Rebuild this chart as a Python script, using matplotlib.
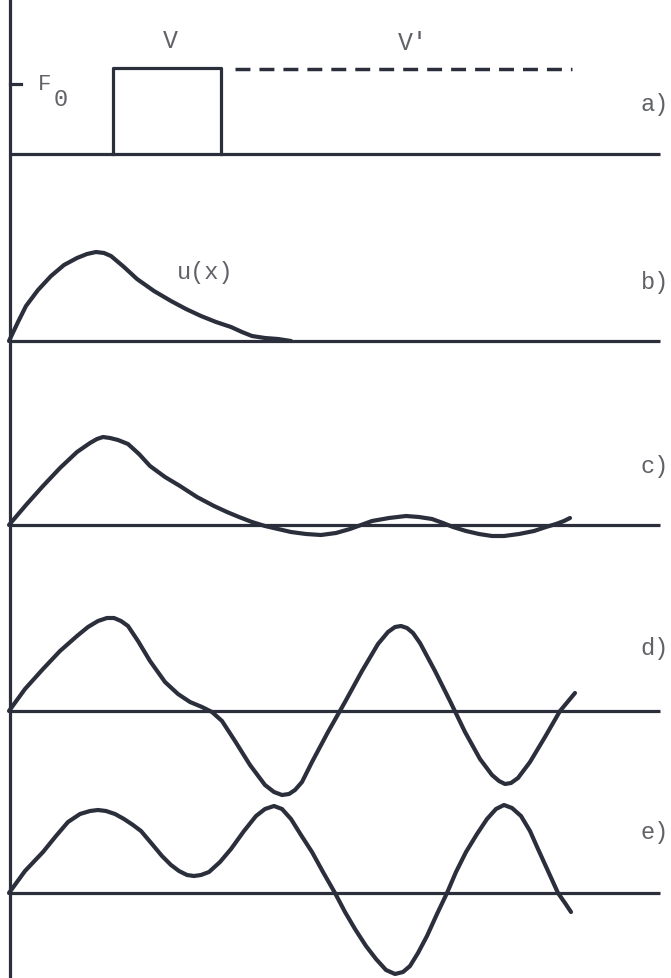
import matplotlib.pyplot as plt

# panel baselines (image rows) and labels
baselines = [155, 342, 526, 712, 894]
panel_labels = ["a)", "b)", "c)", "d)", "e)"]
label_rows = [104, 283, 467, 649, 833]

# a) barrier V and continued level V'
barrier_x = [113, 113, 221, 221]
barrier_h = [0, 86, 86, 0]
level_x = [235, 572]
level_h = [85, 85]
f0_h = 70

# b) bound state u(x)
b_x = [9, 18, 26, 38, 51, 64, 77, 87, 96, 104, 111, 124, 137, 154, 171,
       186, 201, 216, 231, 242, 252, 265, 278, 291]
b_h = [0, 19, 35, 51, 65, 76, 83, 87, 89, 88, 85, 74, 62, 50, 40,
       32, 25, 19, 14, 9, 5, 3, 2, 0]

# c) small oscillating tail
c_x = [9, 26, 43, 60, 77, 90, 97, 103, 110, 118, 128, 139, 150, 165, 180,
       197, 214, 227, 239, 252, 265, 278, 291, 306, 321, 336, 350, 361, 372,
       389, 406, 419, 432, 443, 453, 466, 479, 492, 504, 519, 534, 546, 556,
       564, 570]
c_h = [0, 20, 39, 57, 73, 82, 86, 88, 87, 85, 81, 71, 59, 48, 39,
       28, 19, 13, 8, 3, -1, -4, -7, -9, -10, -8, -4, 0, 4,
       7, 9, 8, 6, 2, -2, -6, -9, -11, -11, -9, -6, -2, 1,
       4, 7]

# d) large oscillation
d_x = [9, 25, 43, 60, 77, 88, 98, 107, 114, 121, 128, 138, 150, 165, 178,
       190, 202, 212, 222, 235, 250, 265, 274, 282, 289, 295, 302, 312, 328,
       345, 362, 378, 388, 395, 401, 407, 413, 420, 435, 450, 465, 480, 492,
       499, 505, 511, 518, 530, 545, 560, 570, 575]
d_h = [0, 22, 42, 60, 75, 84, 90, 93, 93, 90, 85, 70, 50, 29, 17,
       9, 4, -1, -10, -30, -54, -74, -81, -84, -83, -79, -71, -51, -21,
       9, 40, 67, 79, 84, 85, 83, 78, 68, 40, 10, -21, -48, -64,
       -70, -73, -72, -67, -51, -26, 0, 12, 18]

# e) resonance
e_x = [9, 25, 43, 56, 68, 80, 90, 98, 106, 115, 124, 133, 141, 152, 162,
       171, 179, 187, 194, 201, 209, 220, 231, 244, 256, 265, 274, 282, 291,
       301, 312, 323, 335, 345, 355, 366, 376, 386, 395, 403, 410, 418, 427,
       437, 447, 456, 466, 477, 487, 496, 504, 512, 521, 530, 538, 548, 558,
       565, 571]
e_h = [0, 22, 41, 57, 71, 79, 82, 83, 82, 79, 74, 68, 62, 49, 37,
       28, 22, 18, 17, 18, 21, 31, 44, 62, 77, 84, 87, 84, 74,
       58, 41, 21, 0, -19, -36, -53, -66, -77, -81, -79, -73, -60, -43,
       -21, 0, 21, 41, 59, 74, 84, 88, 85, 77, 62, 44, 22, 0,
       -10, -19]

ink = "#2b2f3c"
txt = "#606268"
font = "Liberation Mono"

fig = plt.figure(figsize=(6.71, 9.79), dpi=100)
ax = fig.add_axes([0, 0, 1, 1])
ax.set_xlim(0, 671)
ax.set_ylim(979, 0)
ax.axis("off")

# vertical axis on the left
ax.plot([10, 10], [0, 979], color=ink, lw=2.3, solid_capstyle="butt")

for base, lab, row in zip(baselines, panel_labels, label_rows):
    ax.plot([10, 660], [base, base], color=ink, lw=2.3, solid_capstyle="butt")
    ax.text(669, row, lab, ha="right", va="center", fontsize=17,
            family=font, color=txt)

a0 = baselines[0]
ax.plot(barrier_x, [a0 - h for h in barrier_h], color=ink, lw=2.3)
ax.plot(level_x, [a0 - h for h in level_h], color=ink, lw=2.5,
        dashes=(4.3, 2.6), dash_capstyle="butt")
ax.plot([10, 21], [a0 - f0_h, a0 - f0_h], color=ink, lw=2.3)
ax.text(45, a0 - f0_h, "F", ha="center", va="center", fontsize=16,
        family=font, color=txt)
ax.text(61, a0 - f0_h + 14, "0", ha="center", va="center", fontsize=17,
        family=font, color=txt)
ax.text(170, 41, "V", ha="center", va="center", fontsize=18, family=font, color=txt)
ax.text(413, 43, "V'", ha="center", va="center", fontsize=18, family=font, color=txt)

curves = [(b_x, b_h), (c_x, c_h), (d_x, d_h), (e_x, e_h)]
for (xs, hs), base in zip(curves, baselines[1:]):
    ax.plot(xs, [base - h for h in hs], color=ink, lw=3.0,
            solid_joinstyle="round", solid_capstyle="round")

ax.text(205, 273, "u(x)", ha="center", va="center", fontsize=17,
        family=font, color=txt)

fig.savefig("out.png", dpi=100)
